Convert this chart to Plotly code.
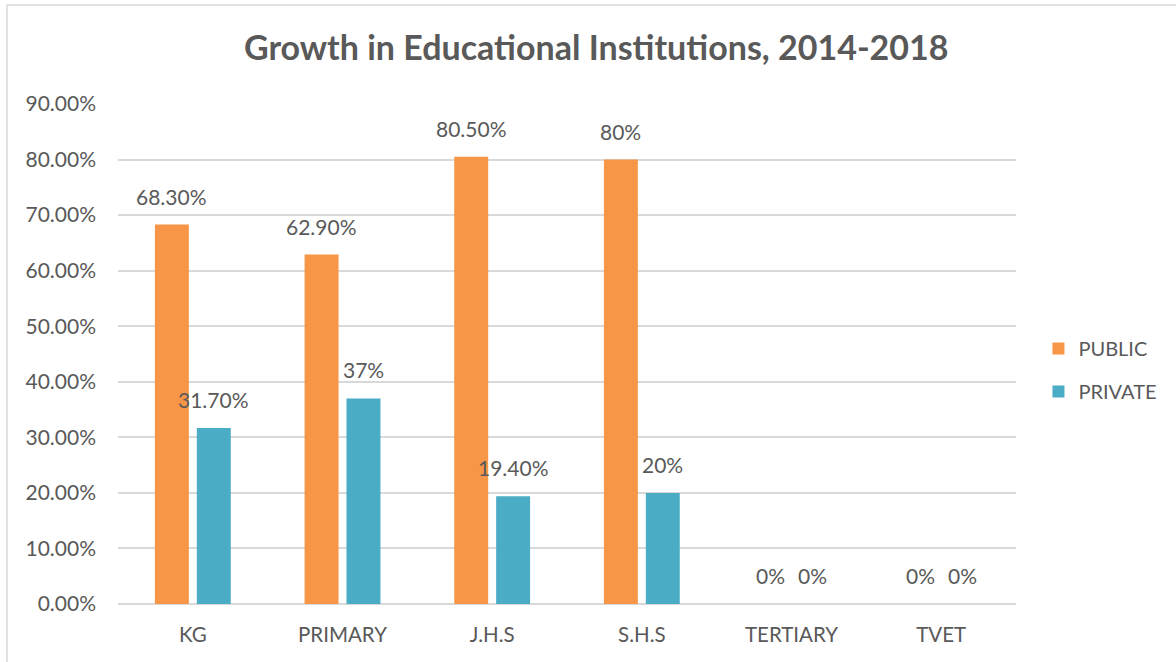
import plotly.graph_objects as go

# Share of new institutions by ownership, 2014-2018
categories = ["KG", "PRIMARY", "J.H.S", "S.H.S", "TERTIARY", "TVET"]
public_pct = [68.3, 62.9, 80.5, 80.0, 0.0, 0.0]
private_pct = [31.7, 37.0, 19.4, 20.0, 0.0, 0.0]
y_ticks = [0, 10, 20, 30, 40, 50, 60, 70, 80, 90]

PUBLIC_COLOR = "#F79646"
PRIVATE_COLOR = "#4BACC6"
TEXT_COLOR = "#595959"
GRID_COLOR = "#D9D9D9"
FONT = "Lato, 'Open Sans', sans-serif"


def pct_label(v):
    # whole numbers shown without decimals, others with two
    return f"{int(v)}%" if float(v).is_integer() else f"{v:.2f}%"


fig = go.Figure()
fig.add_trace(go.Bar(
    name="PUBLIC", x=categories, y=public_pct,
    marker=dict(color=PUBLIC_COLOR, line=dict(width=0)),
    legendgroup="pub",
))
fig.add_trace(go.Bar(
    name="PRIVATE", x=categories, y=private_pct,
    marker=dict(color=PRIVATE_COLOR, line=dict(width=0)),
    legendgroup="priv",
))

# value labels above each bar
annotations = []
for series, shift in ((public_pct, -21), (private_pct, 21)):
    for cat, v in zip(categories, series):
        annotations.append(dict(
            x=cat, y=v, xref="x", yref="y", text=pct_label(v),
            showarrow=False, xshift=shift, yanchor="bottom", yshift=14,
            font=dict(family=FONT, size=21, color=TEXT_COLOR),
        ))

fig.update_layout(
    width=1176, height=662,
    margin=dict(l=118, r=160, t=104, b=58, autoexpand=False),
    paper_bgcolor="white", plot_bgcolor="white",
    barmode="group", bargap=0.44, bargroupgap=0.19,
    title=dict(
        text="<b>Growth in Educational Institutions, 2014-2018</b>",
        x=0.507, xanchor="center", y=0.927, yanchor="middle",
        font=dict(family=FONT, size=34, color=TEXT_COLOR),
    ),
    font=dict(family=FONT, size=20, color=TEXT_COLOR),
    xaxis=dict(
        showgrid=False, showline=False, zeroline=False, ticks="",
        ticklabelstandoff=16,
        tickfont=dict(family=FONT, size=20.5, color=TEXT_COLOR),
    ),
    yaxis=dict(
        range=[0, 90], tickvals=y_ticks,
        ticktext=[f"{v:.2f}%" for v in y_ticks],
        showgrid=True, gridcolor=GRID_COLOR, gridwidth=1.5,
        zeroline=True, zerolinecolor=GRID_COLOR, zerolinewidth=1.5,
        showline=False, ticks="", ticklen=0, ticklabelstandoff=21,
        tickfont=dict(family=FONT, size=21, color=TEXT_COLOR),
    ),
    legend=dict(
        x=1.025, xanchor="left", y=0.468, yanchor="middle",
        traceorder="grouped", tracegroupgap=14,
        font=dict(family=FONT, size=20, color=TEXT_COLOR),
        bgcolor="rgba(0,0,0,0)",
    ),
    annotations=annotations,
    shapes=[dict(
        type="rect", xref="paper", yref="paper",
        x0=-0.1236, x1=1.3, y0=-0.2, y1=1.198,
        line=dict(color=GRID_COLOR, width=1.5), fillcolor="rgba(0,0,0,0)",
        layer="below",
    )],
)

fig.write_html("out.html")
